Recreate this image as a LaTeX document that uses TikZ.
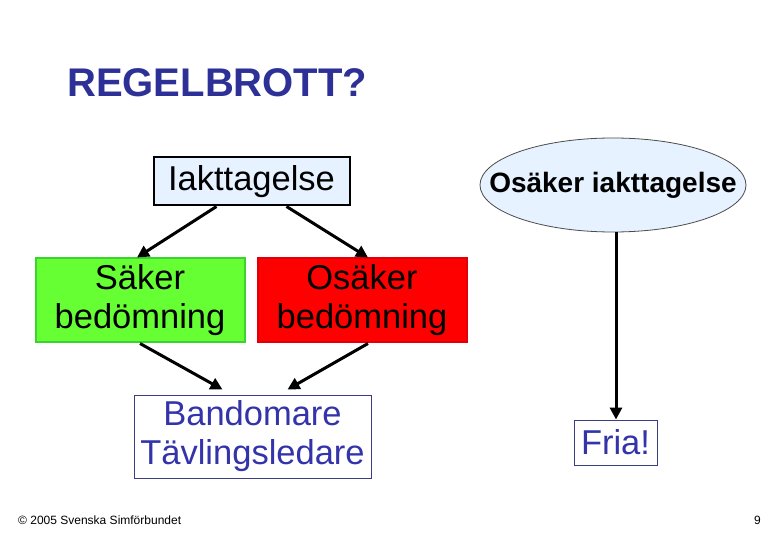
\documentclass[tikz,border=0pt]{standalone}
\usepackage{fontspec}
\setmainfont{Liberation Sans}
\usetikzlibrary{arrows.meta,shapes.geometric,calc}
\definecolor{titleblue}{RGB}{45,48,150}
\definecolor{txtblue}{RGB}{51,51,170}
\definecolor{lightblue}{RGB}{230,242,255}
\definecolor{okgreen}{RGB}{102,255,51}
\definecolor{okgreenborder}{RGB}{60,210,50}
\definecolor{badred}{RGB}{255,0,0}
\definecolor{badredborder}{RGB}{225,0,10}
\definecolor{frameblue}{RGB}{60,60,130}
\tikzset{
  bigtext/.style={font=\fontsize{34.5}{39}\selectfont, align=center, inner sep=0pt},
  obsbox/.style={bigtext, draw=black, line width=2pt, fill=lightblue, minimum width=196pt, minimum height=48pt},
  judgebox/.style={bigtext, line width=2pt, minimum width=209pt, minimum height=84pt},
  resultbox/.style={bigtext, draw=frameblue, line width=1pt, fill=white, text=txtblue},
  conn/.style={line width=3pt, -{Triangle[length=12pt,width=12pt]}},
  foot/.style={font=\fontsize{12}{14}\selectfont, inner sep=0pt}
}
\begin{document}
\begin{tikzpicture}[x=1pt,y=-1pt]
\useasboundingbox[fill=white] (0,0) rectangle (780,540);
\node[font=\bfseries\fontsize{40}{46}\selectfont, text=titleblue, anchor=west, inner sep=0pt] (title) at (67,83) {REGELBROTT?};
\node[obsbox] (iak) at (251.5,181.5) {Iakttagelse};
\node[judgebox, draw=okgreenborder, fill=okgreen] (saker) at (140,300.5) {Säker\\bedömning};
\node[judgebox, draw=badredborder, fill=badred] (osaker) at (362,300.5) {Osäker\\bedömning};
\node[resultbox, minimum width=237pt, minimum height=83pt] (band) at (252.5,436.5) {Bandomare\\Tävlingsledare};
\node[ellipse, draw=black!70, line width=0.8pt, fill=lightblue, minimum width=266pt, minimum height=94pt, inner sep=0pt,
  label={[font=\bfseries\fontsize{28}{32}\selectfont, inner sep=0pt]center:Osäker iakttagelse}] (osiak) at (613,185) {};
\node[resultbox, minimum width=83pt, minimum height=45pt] (fria) at (615.5,442.5) {Fria!};
\draw[conn] ($(iak.south)+(-35,0)$) -- ($(saker.north)+(-3,0)$);
\draw[conn] ($(iak.south)+(35,0)$) -- ($(osaker.north)+(6,0)$);
\draw[conn] (saker.south) -- ($(band.north)+(-30,-5)$);
\draw[conn] ($(osaker.south)+(6,0)$) -- ($(band.north)+(35,-5)$);
\draw[conn] ($(osiak.south)+(3,0)$) -- ($(fria.north)+(0.5,0)$);
\node[foot, anchor=west] (copy) at (18,520) {© 2005 Svenska Simförbundet};
\node[foot, anchor=east] (page) at (761,520) {9};
\end{tikzpicture}
\end{document}
